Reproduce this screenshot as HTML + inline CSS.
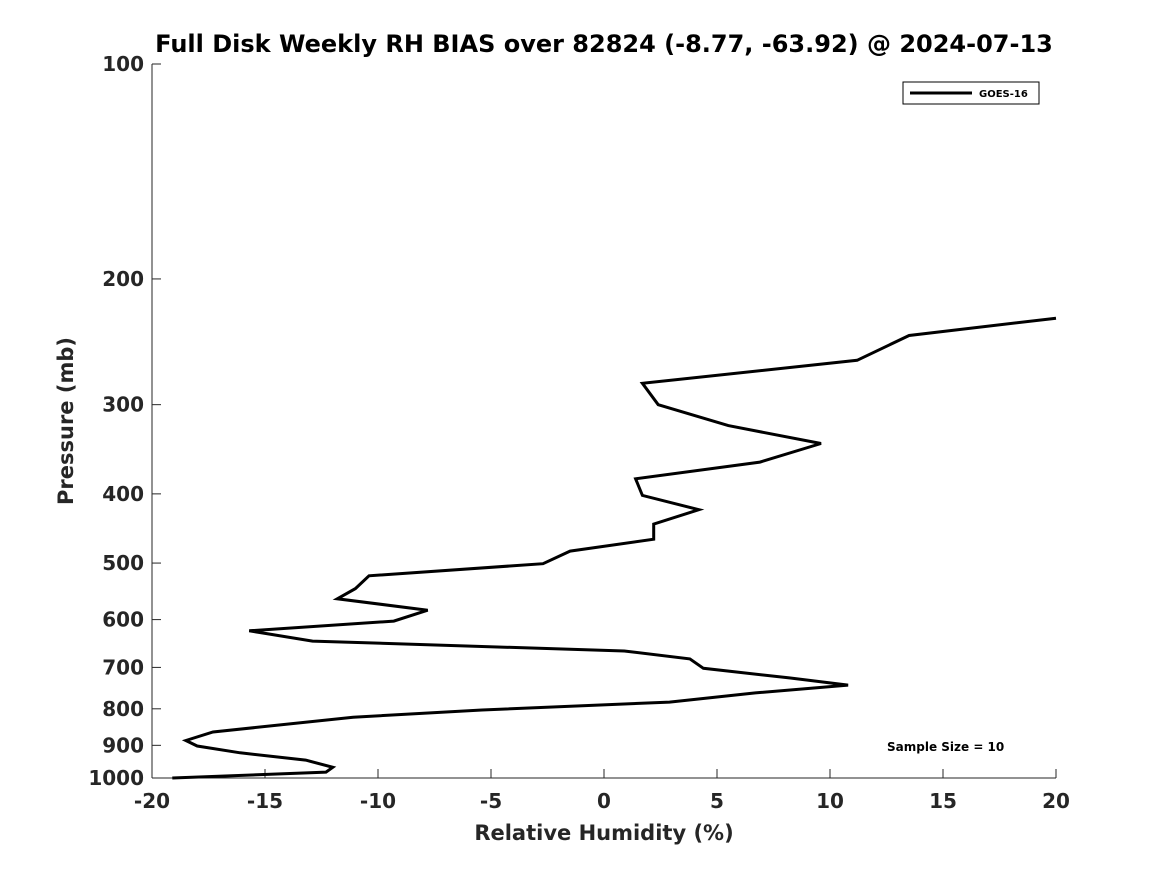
<!DOCTYPE html>
<html><head><meta charset="utf-8"><style>
body{margin:0;background:#fff;}
svg text{font-family:"DejaVu Sans","Liberation Sans",sans-serif;font-weight:bold;fill:#262626;}
</style></head><body>
<svg id="chart" width="1167" height="875" xmlns="http://www.w3.org/2000/svg">
<rect width="1167" height="875" fill="#fff"/>
<text x="604" y="52" text-anchor="middle" font-size="24" style="fill:#000">Full Disk Weekly RH BIAS over 82824 (-8.77, -63.92) @ 2024-07-13</text>
<g id="axes"></g>
<path id="series" fill="none" stroke="#000" stroke-width="3" stroke-linejoin="miter"/>
<g>
<rect x="903" y="82" width="136" height="22" fill="#fff" stroke="#000" stroke-width="1"/>
<line x1="910" y1="93" x2="972" y2="93" stroke="#000" stroke-width="3"/>
<text x="979" y="97" font-size="10" style="fill:#000">GOES-16</text>
</g>
<text x="887" y="751" font-size="12" style="fill:#000">Sample Size = 10</text>
<text x="604" y="840" text-anchor="middle" font-size="21">Relative Humidity (%)</text>
<text transform="translate(73,421) rotate(-90)" text-anchor="middle" font-size="21">Pressure (mb)</text>
</svg>
<script>
const xTicks=[-20,-15,-10,-5,0,5,10,15,20];
const yTicks=[100,200,300,400,500,600,700,800,900,1000];
const rhBias=[20,13.5,11.2,1.7,2.4,5.5,9.6,6.9,1.4,1.7,4.2,2.2,2.2,-1.5,-2.7,-10.4,-11.0,-11.8,-7.8,-9.3,-15.7,-12.9,0.9,3.8,4.4,8.2,10.8,6.7,2.9,-5.4,-11.1,-17.3,-18.5,-18.0,-16.1,-13.2,-12.0,-12.3,-19.1];
const pressure=[227,240,260,280,300,321,340,361,381,402,421,441,463,481,501,521,543,561,582,603,622,643,664,681,702,724,741,760,783,803,822,862,886,902,922,944,966,981,1000];
const X0=152,X1=1056,Y0=64,Y1=778;
const xs=v=>X0+(v+20)/40*(X1-X0);
const ys=p=>Y0+(Math.log10(p)-2)*(Y1-Y0);
const NS="http://www.w3.org/2000/svg";
const g=document.getElementById('axes');
function mk(t,a){const e=document.createElementNS(NS,t);for(const k in a)e.setAttribute(k,a[k]);g.appendChild(e);return e;}
let e=mk('line',{x1:X0,y1:Y0,x2:X0,y2:Y1,stroke:'#262626','stroke-width':1});


e=mk('line',{x1:X0,y1:Y1,x2:X1,y2:Y1,stroke:'#262626','stroke-width':1});


xTicks.forEach(v=>{
 const x=xs(v);
 mk('line',{x1:x,y1:Y1,x2:x,y2:Y1-9,stroke:'#262626'});
 const t=mk('text',{x:x,y:808,'text-anchor':'middle','font-size':20});
 t.textContent=v;
 
 
});
yTicks.forEach(p=>{
 const y=ys(p);
 mk('line',{x1:X0,y1:y,x2:X0+9,y2:y,stroke:'#262626'});
 const t=mk('text',{x:144,y:y+7,'text-anchor':'end','font-size':20});
 t.textContent=p;
 
 
});
document.getElementById('series').setAttribute('d',rhBias.map((v,i)=>(i?'L':'M')+xs(v).toFixed(1)+','+ys(pressure[i]).toFixed(1)).join(' '));
</script>
</body></html>
